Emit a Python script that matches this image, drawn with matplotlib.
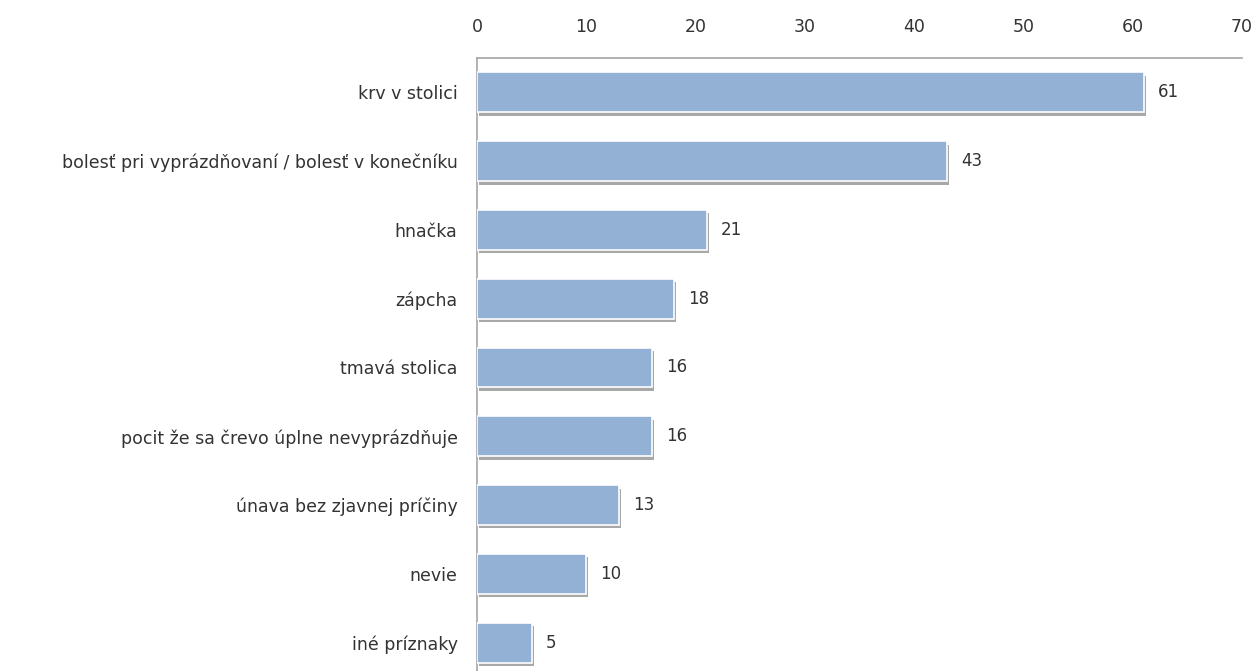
import matplotlib
matplotlib.use("Agg")
import matplotlib.pyplot as plt
import matplotlib.patheffects as pe

categories = [
    "krv v stolici",
    "bolesť pri vyprázdňovaní / bolesť v konečníku",
    "hnačka",
    "zápcha",
    "tmavá stolica",
    "pocit že sa črevo úplne nevyprázdňuje",
    "únava bez zjavnej príčiny",
    "nevie",
    "iné príznaky",
]
values = [61, 43, 21, 18, 16, 16, 13, 10, 5]
xticks = [0, 10, 20, 30, 40, 50, 60, 70]

plt.rcParams['font.family'] = ['DejaVu Sans']
text_color = '#333333'

fig = plt.figure(figsize=(12.59, 6.71), dpi=100)
ax = fig.add_axes([477/1259, -6/671, (1242-477)/1259, (677-58)/671])

y = list(range(len(categories)))
bars = ax.barh(y, values, height=0.58, color='#92b1d4', edgecolor='white', linewidth=1.2,
               zorder=3)
for b in bars:
    b.set_path_effects([pe.SimplePatchShadow(offset=(1.5, -2.5), shadow_rgbFace='#6f6f6f', alpha=0.6),
                        pe.Normal()])

for yi, v in zip(y, values):
    ax.text(v + 1.3, yi, str(v), va='center', ha='left', fontsize=12, color=text_color)

ax.set_xlim(0, 70)
ax.set_ylim(len(categories) - 0.5, -0.5)
ax.xaxis.tick_top()
ax.set_xticks(xticks)
ax.set_xticklabels([str(t) for t in xticks])
ax.set_yticks(y)
ax.set_yticklabels(categories)
ax.tick_params(axis='both', length=0, colors=text_color, labelsize=12.5)
ax.tick_params(axis='x', pad=16)
ax.tick_params(axis='y', pad=14)
for s in ['right', 'bottom']:
    ax.spines[s].set_visible(False)
for s in ['top', 'left']:
    ax.spines[s].set_color('#a6a6a6')
    ax.spines[s].set_linewidth(1.2)

fig.savefig('out.png', dpi=100)
